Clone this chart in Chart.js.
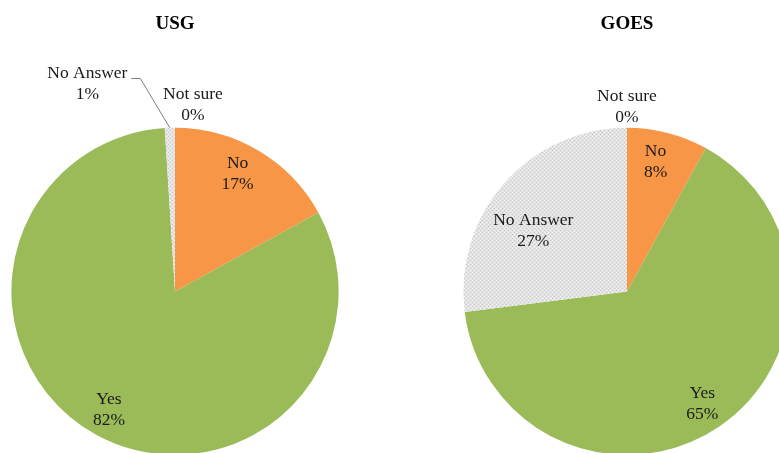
<!DOCTYPE html>
<html>
<head>
<meta charset="utf-8">
<script src="https://cdn.jsdelivr.net/npm/chart.js@4"></script>
<style>
  html, body { margin: 0; padding: 0; background: #fff; overflow: hidden; }
  body { width: 779px; height: 453px; position: relative; }
  #wrap1 { position: absolute; left: 0; top: 0; width: 390px; height: 470px; }
  #wrap2 { position: absolute; left: 390px; top: 0; width: 410px; height: 470px; }
</style>
</head>
<body>
<div id="wrap1"><canvas id="usg" width="390" height="470"></canvas></div>
<div id="wrap2"><canvas id="goes" width="410" height="470"></canvas></div>
<script>
// categories, in clockwise order starting at 12 o'clock
var categories = ['No', 'Yes', 'No Answer', 'Not sure'];
var usgValues = [17, 82, 1, 0];
var goesValues = [8, 65, 27, 0];
var pctLabels = function (vals) { return vals.map(function (v) { return v + '%'; }); };

// grey dotted texture for "No Answer"
function makeHatch() {
  var c = document.createElement('canvas');
  c.width = 4; c.height = 4;
  var g = c.getContext('2d');
  g.fillStyle = '#e4e4e4';
  g.fillRect(0, 0, 4, 4);
  g.fillStyle = '#c4c4c4';
  g.fillRect(0, 0, 1, 1);
  g.fillRect(2, 2, 1, 1);
  g.fillStyle = '#f2f2f2';
  g.fillRect(2, 0, 1, 1);
  g.fillRect(0, 2, 1, 1);
  return g.createPattern(c, 'repeat');
}
var hatch = makeHatch();
var colours = ['#f79646', '#9bbb59', hatch, '#bfbfbf'];

// label plugin: text placed along each slice's middle angle
// place = [radius fraction, extra dx, extra dy, leader start] for each slice
var sliceLabels = {
  id: 'sliceLabels',
  afterDatasetsDraw: function (chart, args, opts) {
    var ctx = chart.ctx;
    var meta = chart.getDatasetMeta(0);
    var vals = chart.data.datasets[0].data;
    var pct = pctLabels(vals);
    ctx.save();
    ctx.font = '17.5px "Liberation Serif", "Times New Roman", serif';
    ctx.fillStyle = '#1a1a1a';
    ctx.textAlign = 'center';
    ctx.textBaseline = 'middle';
    meta.data.forEach(function (arc, i) {
      var p = opts.place[i];
      var mid = (arc.startAngle + arc.endAngle) / 2;
      var r = arc.outerRadius * p[0];
      var x = arc.x + Math.cos(mid) * r + p[1];
      var y = arc.y + Math.sin(mid) * r + p[2];
      ctx.fillText(chart.data.labels[i], x, y - 10);
      ctx.fillText(pct[i], x, y + 11);
      if (p[3]) {
        // leader line from the label to the slice edge
        var ex = arc.x + Math.cos(mid) * arc.outerRadius;
        var ey = arc.y + Math.sin(mid) * arc.outerRadius;
        ctx.strokeStyle = '#7f7f7f';
        ctx.lineWidth = 1;
        ctx.beginPath();
        ctx.moveTo(x + p[3][0], y + p[3][1]);
        ctx.lineTo(x + p[3][0] + 9, y + p[3][1]);
        ctx.lineTo(ex, ey);
        ctx.stroke();
      }
    });
    ctx.restore();
  }
};

function makePie(id, title, values, pad, place) {
  return new Chart(document.getElementById(id), {
    type: 'pie',
    data: {
      labels: categories,
      datasets: [{
        data: values,
        backgroundColor: colours,
        borderWidth: 0
      }]
    },
    options: {
      responsive: false,
      animation: false,
      layout: { padding: pad },
      plugins: {
        legend: { display: false },
        tooltip: { enabled: false },
        title: {
          display: true,
          text: title,
          color: '#000',
          font: { family: '"Liberation Serif", "Times New Roman", serif', size: 19, weight: 'bold' },
          padding: { top: 13, bottom: 92 }
        },
        sliceLabels: { place: place }
      }
    },
    plugins: [sliceLabels]
  });
}

makePie('usg', 'USG', usgValues,
  { left: 11, right: 51, top: 0, bottom: 15 },
  [[0.8, -4, -5], [0.8, -3, 3], [1.1, -82, -28, [44, -5]], [1.1, 18, -7]]);

makePie('goes', 'GOES', goesValues,
  { left: 73, right: 9, top: 0, bottom: 15 },
  [[0.8, -4, -3], [0.82, 0, 1], [0.69, -9, 14], [1.13, 0, 0]]);
</script>
</body>
</html>
